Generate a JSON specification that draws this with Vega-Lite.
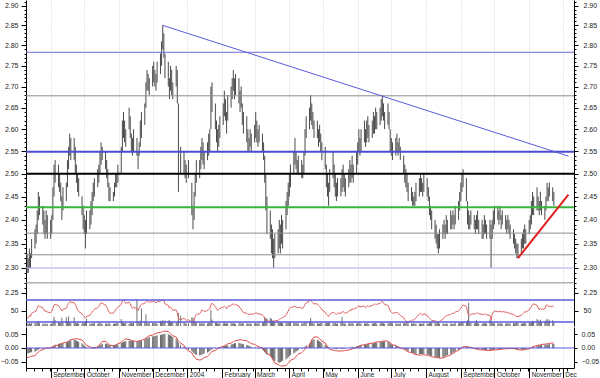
{
"$schema":"https://vega.github.io/schema/vega-lite/v6.json",
"padding":0,
"background":"white",
"spacing":0,
"config":{"view":{"stroke":null},"font":"Liberation Sans","axis":{"labelFont":"Liberation Sans","labelFontSize":7,"labelColor":"#222","tickColor":"#000","domainColor":"#000","domainWidth":1,"tickWidth":1}},
"datasets":{
"px":[
{"d":"2003-08-11","h":2.33,"l":2.29,"r":37,"v":9,"m":-0.02,"s":-0.035},
{"d":"2003-08-12","h":2.32,"l":2.29,"r":38,"v":7,"m":-0.019,"s":-0.034},
{"d":"2003-08-13","h":2.34,"l":2.3,"r":42,"v":11,"m":-0.018,"s":-0.033},
{"d":"2003-08-14","h":2.33,"l":2.3,"r":40,"v":8,"m":-0.016,"s":-0.031},
{"d":"2003-08-15","h":2.36,"l":2.32,"r":46,"v":10,"m":-0.015,"s":-0.03},
{"d":"2003-08-18","h":2.38,"l":2.34,"r":49,"v":12,"m":-0.014,"s":-0.028},
{"d":"2003-08-19","h":2.39,"l":2.35,"r":50,"v":9,"m":-0.011,"s":-0.024},
{"d":"2003-08-20","h":2.42,"l":2.37,"r":55,"v":14,"m":-0.008,"s":-0.019},
{"d":"2003-08-21","h":2.46,"l":2.4,"r":60,"v":16,"m":-0.005,"s":-0.014},
{"d":"2003-08-22","h":2.45,"l":2.41,"r":58,"v":10,"m":-0.003,"s":-0.01},
{"d":"2003-08-25","h":2.43,"l":2.39,"r":56,"v":8,"m":-0.002,"s":-0.006},
{"d":"2003-08-26","h":2.42,"l":2.37,"r":52,"v":7,"m":-0.001,"s":-0.004},
{"d":"2003-08-27","h":2.4,"l":2.36,"r":49,"v":9,"m":-0.001,"s":-0.003},
{"d":"2003-08-28","h":2.42,"l":2.37,"r":51,"v":6,"m":0,"s":-0.001},
{"d":"2003-08-29","h":2.41,"l":2.36,"r":48,"v":8,"m":0,"s":0},
{"d":"2003-09-01","h":2.4,"l":2.36,"r":47,"v":7,"m":0.001,"s":0},
{"d":"2003-09-02","h":2.41,"l":2.37,"r":49,"v":9,"m":0.003,"s":0.002},
{"d":"2003-09-03","h":2.47,"l":2.4,"r":55,"v":18,"m":0.006,"s":0.004},
{"d":"2003-09-04","h":2.52,"l":2.45,"r":61,"v":32,"m":0.009,"s":0.006},
{"d":"2003-09-05","h":2.53,"l":2.48,"r":62,"v":20,"m":0.012,"s":0.008},
{"d":"2003-09-08","h":2.52,"l":2.47,"r":60,"v":12,"m":0.015,"s":0.011},
{"d":"2003-09-09","h":2.5,"l":2.46,"r":57,"v":10,"m":0.016,"s":0.013},
{"d":"2003-09-10","h":2.48,"l":2.44,"r":54,"v":14,"m":0.016,"s":0.015},
{"d":"2003-09-11","h":2.45,"l":2.4,"r":50,"v":28,"m":0.017,"s":0.016},
{"d":"2003-09-12","h":2.47,"l":2.42,"r":53,"v":11,"m":0.018,"s":0.018},
{"d":"2003-09-15","h":2.48,"l":2.44,"r":55,"v":30,"m":0.02,"s":0.021},
{"d":"2003-09-16","h":2.53,"l":2.47,"r":60,"v":15,"m":0.022,"s":0.023},
{"d":"2003-09-17","h":2.56,"l":2.51,"r":64,"v":33,"m":0.024,"s":0.026},
{"d":"2003-09-18","h":2.59,"l":2.54,"r":67,"v":12,"m":0.026,"s":0.028},
{"d":"2003-09-19","h":2.58,"l":2.53,"r":66,"v":10,"m":0.028,"s":0.03},
{"d":"2003-09-22","h":2.58,"l":2.53,"r":65,"v":30,"m":0.03,"s":0.033},
{"d":"2003-09-23","h":2.56,"l":2.5,"r":62,"v":11,"m":0.029,"s":0.034},
{"d":"2003-09-24","h":2.52,"l":2.48,"r":57,"v":9,"m":0.027,"s":0.034},
{"d":"2003-09-25","h":2.5,"l":2.46,"r":52,"v":12,"m":0.025,"s":0.033},
{"d":"2003-09-26","h":2.49,"l":2.45,"r":49,"v":8,"m":0.022,"s":0.032},
{"d":"2003-09-29","h":2.45,"l":2.41,"r":45,"v":9,"m":0.017,"s":0.029},
{"d":"2003-09-30","h":2.43,"l":2.38,"r":42,"v":10,"m":0.013,"s":0.025},
{"d":"2003-10-01","h":2.41,"l":2.37,"r":40,"v":13,"m":0.009,"s":0.02},
{"d":"2003-10-02","h":2.4,"l":2.34,"r":37,"v":16,"m":0.005,"s":0.014},
{"d":"2003-10-03","h":2.42,"l":2.37,"r":40,"v":25,"m":0.002,"s":0.009},
{"d":"2003-10-06","h":2.42,"l":2.38,"r":42,"v":8,"m":0,"s":0.005},
{"d":"2003-10-07","h":2.44,"l":2.39,"r":45,"v":7,"m":0,"s":0.002},
{"d":"2003-10-08","h":2.46,"l":2.41,"r":48,"v":10,"m":0.001,"s":0},
{"d":"2003-10-09","h":2.48,"l":2.44,"r":51,"v":9,"m":0.002,"s":-0.001},
{"d":"2003-10-10","h":2.49,"l":2.45,"r":53,"v":11,"m":0.004,"s":0},
{"d":"2003-10-13","h":2.51,"l":2.47,"r":56,"v":8,"m":0.006,"s":0.004},
{"d":"2003-10-14","h":2.52,"l":2.48,"r":58,"v":10,"m":0.008,"s":0.009},
{"d":"2003-10-15","h":2.55,"l":2.5,"r":62,"v":13,"m":0.011,"s":0.014},
{"d":"2003-10-16","h":2.57,"l":2.52,"r":65,"v":9,"m":0.013,"s":0.019},
{"d":"2003-10-17","h":2.56,"l":2.53,"r":64,"v":7,"m":0.015,"s":0.024},
{"d":"2003-10-20","h":2.55,"l":2.51,"r":61,"v":8,"m":0.016,"s":0.024},
{"d":"2003-10-21","h":2.53,"l":2.49,"r":57,"v":9,"m":0.015,"s":0.021},
{"d":"2003-10-22","h":2.51,"l":2.47,"r":54,"v":6,"m":0.013,"s":0.017},
{"d":"2003-10-23","h":2.48,"l":2.44,"r":48,"v":11,"m":0.012,"s":0.013},
{"d":"2003-10-24","h":2.47,"l":2.44,"r":46,"v":8,"m":0.01,"s":0.01},
{"d":"2003-10-27","h":2.46,"l":2.44,"r":46,"v":7,"m":0.01,"s":0.008},
{"d":"2003-10-28","h":2.48,"l":2.45,"r":49,"v":9,"m":0.011,"s":0.009},
{"d":"2003-10-29","h":2.5,"l":2.47,"r":53,"v":8,"m":0.012,"s":0.011},
{"d":"2003-10-30","h":2.5,"l":2.47,"r":54,"v":10,"m":0.013,"s":0.013},
{"d":"2003-10-31","h":2.52,"l":2.48,"r":57,"v":12,"m":0.014,"s":0.016},
{"d":"2003-11-03","h":2.56,"l":2.5,"r":62,"v":24,"m":0.018,"s":0.02},
{"d":"2003-11-04","h":2.62,"l":2.55,"r":68,"v":14,"m":0.02,"s":0.025},
{"d":"2003-11-05","h":2.64,"l":2.58,"r":70,"v":11,"m":0.022,"s":0.029},
{"d":"2003-11-06","h":2.62,"l":2.57,"r":67,"v":9,"m":0.024,"s":0.032},
{"d":"2003-11-07","h":2.6,"l":2.56,"r":64,"v":10,"m":0.025,"s":0.033},
{"d":"2003-11-10","h":2.65,"l":2.6,"r":66,"v":8,"m":0.027,"s":0.031},
{"d":"2003-11-11","h":2.63,"l":2.58,"r":63,"v":10,"m":0.027,"s":0.03},
{"d":"2003-11-12","h":2.59,"l":2.55,"r":58,"v":12,"m":0.026,"s":0.028},
{"d":"2003-11-13","h":2.58,"l":2.54,"r":55,"v":9,"m":0.026,"s":0.027},
{"d":"2003-11-14","h":2.6,"l":2.55,"r":57,"v":11,"m":0.025,"s":0.026},
{"d":"2003-11-17","h":2.58,"l":2.54,"r":54,"v":92,"m":0.024,"s":0.024},
{"d":"2003-11-18","h":2.55,"l":2.51,"r":51,"v":14,"m":0.025,"s":0.025},
{"d":"2003-11-19","h":2.57,"l":2.54,"r":55,"v":12,"m":0.026,"s":0.026},
{"d":"2003-11-20","h":2.62,"l":2.56,"r":60,"v":18,"m":0.027,"s":0.027},
{"d":"2003-11-21","h":2.64,"l":2.58,"r":62,"v":60,"m":0.028,"s":0.028},
{"d":"2003-11-24","h":2.66,"l":2.61,"r":64,"v":15,"m":0.032,"s":0.033},
{"d":"2003-11-25","h":2.71,"l":2.65,"r":67,"v":40,"m":0.034,"s":0.036},
{"d":"2003-11-26","h":2.74,"l":2.69,"r":69,"v":12,"m":0.036,"s":0.039},
{"d":"2003-11-27","h":2.73,"l":2.69,"r":67,"v":9,"m":0.038,"s":0.042},
{"d":"2003-11-28","h":2.72,"l":2.68,"r":66,"v":10,"m":0.04,"s":0.045},
{"d":"2003-12-01","h":2.75,"l":2.7,"r":67,"v":11,"m":0.042,"s":0.047},
{"d":"2003-12-02","h":2.76,"l":2.71,"r":68,"v":9,"m":0.043,"s":0.049},
{"d":"2003-12-03","h":2.74,"l":2.7,"r":66,"v":12,"m":0.044,"s":0.051},
{"d":"2003-12-04","h":2.73,"l":2.69,"r":65,"v":10,"m":0.045,"s":0.053},
{"d":"2003-12-05","h":2.76,"l":2.71,"r":67,"v":8,"m":0.046,"s":0.055},
{"d":"2003-12-08","h":2.78,"l":2.73,"r":68,"v":18,"m":0.048,"s":0.057},
{"d":"2003-12-09","h":2.81,"l":2.75,"r":69,"v":14,"m":0.049,"s":0.058},
{"d":"2003-12-10","h":2.85,"l":2.79,"r":71,"v":20,"m":0.05,"s":0.06},
{"d":"2003-12-11","h":2.83,"l":2.77,"r":69,"v":16,"m":0.051,"s":0.061},
{"d":"2003-12-12","h":2.78,"l":2.72,"r":63,"v":19,"m":0.052,"s":0.062},
{"d":"2003-12-15","h":2.76,"l":2.7,"r":60,"v":18,"m":0.05,"s":0.06},
{"d":"2003-12-16","h":2.72,"l":2.67,"r":55,"v":20,"m":0.048,"s":0.057},
{"d":"2003-12-17","h":2.75,"l":2.69,"r":57,"v":12,"m":0.046,"s":0.053},
{"d":"2003-12-18","h":2.74,"l":2.68,"r":55,"v":16,"m":0.043,"s":0.049},
{"d":"2003-12-19","h":2.71,"l":2.67,"r":51,"v":11,"m":0.04,"s":0.045},
{"d":"2003-12-22","h":2.75,"l":2.7,"r":52,"v":10,"m":0.035,"s":0.04},
{"d":"2003-12-23","h":2.74,"l":2.66,"r":47,"v":14,"m":0.028,"s":0.033},
{"d":"2003-12-24","h":2.66,"l":2.46,"r":36,"v":45,"m":0.02,"s":0.026},
{"d":"2003-12-26","h":2.56,"l":2.5,"r":34,"v":35,"m":0.012,"s":0.018},
{"d":"2003-12-29","h":2.55,"l":2.5,"r":37,"v":12,"m":0.006,"s":0.01},
{"d":"2003-12-30","h":2.53,"l":2.49,"r":35,"v":10,"m":0.002,"s":0.003},
{"d":"2003-12-31","h":2.52,"l":2.48,"r":33,"v":8,"m":-0.002,"s":-0.004},
{"d":"2004-01-02","h":2.53,"l":2.49,"r":34,"v":9,"m":-0.006,"s":-0.01},
{"d":"2004-01-05","h":2.48,"l":2.41,"r":30,"v":30,"m":-0.012,"s":-0.018},
{"d":"2004-01-06","h":2.43,"l":2.38,"r":28,"v":28,"m":-0.016,"s":-0.025},
{"d":"2004-01-07","h":2.46,"l":2.4,"r":33,"v":20,"m":-0.02,"s":-0.032},
{"d":"2004-01-08","h":2.5,"l":2.45,"r":40,"v":14,"m":-0.023,"s":-0.037},
{"d":"2004-01-09","h":2.53,"l":2.48,"r":44,"v":12,"m":-0.025,"s":-0.041},
{"d":"2004-01-12","h":2.53,"l":2.49,"r":45,"v":10,"m":-0.027,"s":-0.044},
{"d":"2004-01-13","h":2.56,"l":2.51,"r":48,"v":9,"m":-0.026,"s":-0.043},
{"d":"2004-01-14","h":2.58,"l":2.53,"r":52,"v":11,"m":-0.024,"s":-0.041},
{"d":"2004-01-15","h":2.57,"l":2.52,"r":51,"v":8,"m":-0.022,"s":-0.038},
{"d":"2004-01-16","h":2.55,"l":2.51,"r":49,"v":10,"m":-0.02,"s":-0.035},
{"d":"2004-01-19","h":2.57,"l":2.53,"r":51,"v":9,"m":-0.017,"s":-0.031},
{"d":"2004-01-20","h":2.59,"l":2.54,"r":53,"v":11,"m":-0.014,"s":-0.027},
{"d":"2004-01-21","h":2.6,"l":2.55,"r":54,"v":12,"m":-0.011,"s":-0.022},
{"d":"2004-01-22","h":2.7,"l":2.6,"r":62,"v":55,"m":-0.007,"s":-0.017},
{"d":"2004-01-23","h":2.71,"l":2.64,"r":64,"v":22,"m":-0.004,"s":-0.012},
{"d":"2004-01-26","h":2.66,"l":2.6,"r":58,"v":12,"m":-0.002,"s":-0.009},
{"d":"2004-01-27","h":2.62,"l":2.57,"r":54,"v":10,"m":-0.001,"s":-0.006},
{"d":"2004-01-28","h":2.6,"l":2.55,"r":51,"v":9,"m":0,"s":-0.003},
{"d":"2004-01-29","h":2.61,"l":2.56,"r":53,"v":8,"m":0.002,"s":0},
{"d":"2004-01-30","h":2.63,"l":2.58,"r":55,"v":10,"m":0.003,"s":0.002},
{"d":"2004-02-02","h":2.66,"l":2.61,"r":57,"v":9,"m":0.006,"s":0.006},
{"d":"2004-02-03","h":2.69,"l":2.63,"r":59,"v":12,"m":0.007,"s":0.008},
{"d":"2004-02-04","h":2.67,"l":2.62,"r":57,"v":8,"m":0.008,"s":0.011},
{"d":"2004-02-05","h":2.64,"l":2.59,"r":54,"v":10,"m":0.009,"s":0.013},
{"d":"2004-02-06","h":2.68,"l":2.62,"r":58,"v":9,"m":0.01,"s":0.015},
{"d":"2004-02-09","h":2.7,"l":2.65,"r":60,"v":10,"m":0.012,"s":0.018},
{"d":"2004-02-10","h":2.72,"l":2.67,"r":62,"v":8,"m":0.014,"s":0.02},
{"d":"2004-02-11","h":2.74,"l":2.69,"r":63,"v":12,"m":0.015,"s":0.023},
{"d":"2004-02-12","h":2.72,"l":2.67,"r":61,"v":9,"m":0.017,"s":0.025},
{"d":"2004-02-13","h":2.73,"l":2.68,"r":62,"v":7,"m":0.018,"s":0.027},
{"d":"2004-02-16","h":2.72,"l":2.66,"r":59,"v":9,"m":0.018,"s":0.029},
{"d":"2004-02-17","h":2.69,"l":2.64,"r":55,"v":11,"m":0.017,"s":0.03},
{"d":"2004-02-18","h":2.7,"l":2.65,"r":54,"v":8,"m":0.016,"s":0.03},
{"d":"2004-02-19","h":2.66,"l":2.61,"r":50,"v":10,"m":0.015,"s":0.029},
{"d":"2004-02-20","h":2.64,"l":2.59,"r":47,"v":9,"m":0.014,"s":0.028},
{"d":"2004-02-23","h":2.63,"l":2.57,"r":46,"v":8,"m":0.011,"s":0.026},
{"d":"2004-02-24","h":2.6,"l":2.55,"r":44,"v":10,"m":0.01,"s":0.024},
{"d":"2004-02-25","h":2.58,"l":2.55,"r":43,"v":7,"m":0.008,"s":0.021},
{"d":"2004-02-26","h":2.6,"l":2.56,"r":45,"v":9,"m":0.006,"s":0.019},
{"d":"2004-02-27","h":2.59,"l":2.55,"r":44,"v":8,"m":0.004,"s":0.016},
{"d":"2004-03-01","h":2.61,"l":2.57,"r":45,"v":9,"m":0.002,"s":0.013},
{"d":"2004-03-02","h":2.64,"l":2.58,"r":47,"v":11,"m":0.001,"s":0.011},
{"d":"2004-03-03","h":2.62,"l":2.57,"r":46,"v":8,"m":0,"s":0.008},
{"d":"2004-03-04","h":2.6,"l":2.56,"r":44,"v":10,"m":-0.002,"s":0.006},
{"d":"2004-03-05","h":2.61,"l":2.57,"r":45,"v":9,"m":-0.003,"s":0.004},
{"d":"2004-03-08","h":2.59,"l":2.55,"r":43,"v":10,"m":-0.006,"s":0.001},
{"d":"2004-03-09","h":2.57,"l":2.53,"r":41,"v":12,"m":-0.01,"s":-0.004},
{"d":"2004-03-10","h":2.54,"l":2.48,"r":37,"v":30,"m":-0.015,"s":-0.009},
{"d":"2004-03-11","h":2.5,"l":2.42,"r":34,"v":28,"m":-0.02,"s":-0.015},
{"d":"2004-03-12","h":2.45,"l":2.37,"r":32,"v":25,"m":-0.025,"s":-0.02},
{"d":"2004-03-15","h":2.42,"l":2.36,"r":31,"v":27,"m":-0.03,"s":-0.026},
{"d":"2004-03-16","h":2.39,"l":2.33,"r":30,"v":25,"m":-0.034,"s":-0.033},
{"d":"2004-03-17","h":2.38,"l":2.32,"r":31,"v":18,"m":-0.039,"s":-0.04},
{"d":"2004-03-18","h":2.36,"l":2.3,"r":29,"v":20,"m":-0.044,"s":-0.048},
{"d":"2004-03-19","h":2.37,"l":2.32,"r":32,"v":15,"m":-0.048,"s":-0.055},
{"d":"2004-03-22","h":2.38,"l":2.33,"r":33,"v":14,"m":-0.052,"s":-0.06},
{"d":"2004-03-23","h":2.4,"l":2.34,"r":35,"v":12,"m":-0.054,"s":-0.063},
{"d":"2004-03-24","h":2.39,"l":2.33,"r":36,"v":11,"m":-0.052,"s":-0.065},
{"d":"2004-03-25","h":2.41,"l":2.35,"r":37,"v":13,"m":-0.049,"s":-0.066},
{"d":"2004-03-26","h":2.4,"l":2.34,"r":38,"v":10,"m":-0.046,"s":-0.066},
{"d":"2004-03-29","h":2.44,"l":2.38,"r":42,"v":11,"m":-0.042,"s":-0.064},
{"d":"2004-03-30","h":2.46,"l":2.41,"r":46,"v":9,"m":-0.038,"s":-0.06},
{"d":"2004-03-31","h":2.48,"l":2.43,"r":50,"v":12,"m":-0.034,"s":-0.056},
{"d":"2004-04-01","h":2.5,"l":2.45,"r":54,"v":10,"m":-0.03,"s":-0.051},
{"d":"2004-04-02","h":2.52,"l":2.47,"r":56,"v":14,"m":-0.025,"s":-0.045},
{"d":"2004-04-05","h":2.55,"l":2.5,"r":58,"v":12,"m":-0.02,"s":-0.04},
{"d":"2004-04-06","h":2.58,"l":2.52,"r":59,"v":10,"m":-0.017,"s":-0.035},
{"d":"2004-04-07","h":2.55,"l":2.51,"r":57,"v":9,"m":-0.013,"s":-0.03},
{"d":"2004-04-08","h":2.53,"l":2.5,"r":56,"v":11,"m":-0.01,"s":-0.026},
{"d":"2004-04-09","h":2.54,"l":2.5,"r":57,"v":8,"m":-0.008,"s":-0.022},
{"d":"2004-04-12","h":2.53,"l":2.49,"r":55,"v":9,"m":-0.004,"s":-0.017},
{"d":"2004-04-13","h":2.52,"l":2.49,"r":55,"v":8,"m":-0.001,"s":-0.013},
{"d":"2004-04-14","h":2.55,"l":2.5,"r":58,"v":10,"m":0.002,"s":-0.009},
{"d":"2004-04-15","h":2.6,"l":2.54,"r":62,"v":12,"m":0.005,"s":-0.004},
{"d":"2004-04-16","h":2.63,"l":2.58,"r":65,"v":15,"m":0.009,"s":0.001},
{"d":"2004-04-19","h":2.65,"l":2.6,"r":68,"v":14,"m":0.016,"s":0.01},
{"d":"2004-04-20","h":2.68,"l":2.62,"r":70,"v":28,"m":0.022,"s":0.02},
{"d":"2004-04-21","h":2.66,"l":2.61,"r":67,"v":12,"m":0.027,"s":0.03},
{"d":"2004-04-22","h":2.64,"l":2.6,"r":65,"v":10,"m":0.03,"s":0.036},
{"d":"2004-04-23","h":2.62,"l":2.58,"r":63,"v":9,"m":0.032,"s":0.04},
{"d":"2004-04-26","h":2.62,"l":2.58,"r":63,"v":10,"m":0.03,"s":0.04},
{"d":"2004-04-27","h":2.6,"l":2.56,"r":60,"v":8,"m":0.027,"s":0.037},
{"d":"2004-04-28","h":2.61,"l":2.57,"r":58,"v":9,"m":0.024,"s":0.033},
{"d":"2004-04-29","h":2.59,"l":2.55,"r":56,"v":11,"m":0.021,"s":0.029},
{"d":"2004-04-30","h":2.57,"l":2.53,"r":52,"v":10,"m":0.018,"s":0.025},
{"d":"2004-05-03","h":2.56,"l":2.51,"r":48,"v":9,"m":0.012,"s":0.019},
{"d":"2004-05-04","h":2.52,"l":2.47,"r":44,"v":12,"m":0.008,"s":0.012},
{"d":"2004-05-05","h":2.5,"l":2.45,"r":42,"v":10,"m":0.004,"s":0.005},
{"d":"2004-05-06","h":2.48,"l":2.43,"r":40,"v":14,"m":0.001,"s":0},
{"d":"2004-05-07","h":2.51,"l":2.46,"r":44,"v":11,"m":-0.001,"s":-0.005},
{"d":"2004-05-10","h":2.55,"l":2.49,"r":48,"v":10,"m":-0.002,"s":-0.008},
{"d":"2004-05-11","h":2.52,"l":2.47,"r":47,"v":9,"m":-0.003,"s":-0.009},
{"d":"2004-05-12","h":2.5,"l":2.45,"r":45,"v":11,"m":-0.003,"s":-0.01},
{"d":"2004-05-13","h":2.48,"l":2.44,"r":44,"v":8,"m":-0.004,"s":-0.01},
{"d":"2004-05-14","h":2.49,"l":2.45,"r":46,"v":9,"m":-0.004,"s":-0.011},
{"d":"2004-05-17","h":2.49,"l":2.45,"r":46,"v":12,"m":-0.004,"s":-0.011},
{"d":"2004-05-18","h":2.51,"l":2.46,"r":48,"v":31,"m":-0.003,"s":-0.011},
{"d":"2004-05-19","h":2.52,"l":2.47,"r":49,"v":10,"m":-0.003,"s":-0.01},
{"d":"2004-05-20","h":2.5,"l":2.46,"r":47,"v":9,"m":-0.002,"s":-0.01},
{"d":"2004-05-21","h":2.49,"l":2.45,"r":46,"v":8,"m":-0.002,"s":-0.009},
{"d":"2004-05-24","h":2.51,"l":2.47,"r":49,"v":9,"m":0,"s":-0.008},
{"d":"2004-05-25","h":2.53,"l":2.48,"r":52,"v":10,"m":0.001,"s":-0.006},
{"d":"2004-05-26","h":2.52,"l":2.48,"r":51,"v":8,"m":0.002,"s":-0.005},
{"d":"2004-05-27","h":2.54,"l":2.49,"r":54,"v":11,"m":0.003,"s":-0.003},
{"d":"2004-05-28","h":2.52,"l":2.48,"r":53,"v":7,"m":0.004,"s":-0.002},
{"d":"2004-05-31","h":2.55,"l":2.5,"r":56,"v":8,"m":0.006,"s":0.002},
{"d":"2004-06-01","h":2.57,"l":2.52,"r":58,"v":10,"m":0.007,"s":0.004},
{"d":"2004-06-02","h":2.6,"l":2.55,"r":60,"v":12,"m":0.008,"s":0.006},
{"d":"2004-06-03","h":2.58,"l":2.54,"r":57,"v":9,"m":0.009,"s":0.008},
{"d":"2004-06-04","h":2.6,"l":2.55,"r":58,"v":8,"m":0.01,"s":0.01},
{"d":"2004-06-07","h":2.62,"l":2.57,"r":59,"v":9,"m":0.012,"s":0.012},
{"d":"2004-06-08","h":2.6,"l":2.56,"r":56,"v":8,"m":0.013,"s":0.013},
{"d":"2004-06-09","h":2.62,"l":2.57,"r":58,"v":10,"m":0.013,"s":0.014},
{"d":"2004-06-10","h":2.63,"l":2.58,"r":60,"v":9,"m":0.014,"s":0.015},
{"d":"2004-06-11","h":2.61,"l":2.57,"r":58,"v":7,"m":0.015,"s":0.016},
{"d":"2004-06-14","h":2.62,"l":2.58,"r":60,"v":8,"m":0.016,"s":0.018},
{"d":"2004-06-15","h":2.64,"l":2.59,"r":62,"v":10,"m":0.017,"s":0.019},
{"d":"2004-06-16","h":2.63,"l":2.59,"r":61,"v":9,"m":0.018,"s":0.02},
{"d":"2004-06-17","h":2.65,"l":2.6,"r":63,"v":11,"m":0.019,"s":0.021},
{"d":"2004-06-18","h":2.64,"l":2.6,"r":62,"v":8,"m":0.02,"s":0.022},
{"d":"2004-06-21","h":2.65,"l":2.61,"r":64,"v":9,"m":0.022,"s":0.023},
{"d":"2004-06-22","h":2.67,"l":2.62,"r":66,"v":10,"m":0.023,"s":0.024},
{"d":"2004-06-23","h":2.68,"l":2.63,"r":68,"v":12,"m":0.024,"s":0.025},
{"d":"2004-06-24","h":2.66,"l":2.62,"r":65,"v":9,"m":0.024,"s":0.026},
{"d":"2004-06-25","h":2.64,"l":2.6,"r":62,"v":8,"m":0.025,"s":0.026},
{"d":"2004-06-28","h":2.66,"l":2.61,"r":60,"v":9,"m":0.022,"s":0.025},
{"d":"2004-06-29","h":2.64,"l":2.6,"r":56,"v":10,"m":0.02,"s":0.022},
{"d":"2004-06-30","h":2.6,"l":2.55,"r":50,"v":14,"m":0.017,"s":0.019},
{"d":"2004-07-01","h":2.58,"l":2.54,"r":48,"v":11,"m":0.014,"s":0.015},
{"d":"2004-07-02","h":2.57,"l":2.53,"r":46,"v":9,"m":0.012,"s":0.012},
{"d":"2004-07-05","h":2.58,"l":2.54,"r":47,"v":8,"m":0.009,"s":0.009},
{"d":"2004-07-06","h":2.59,"l":2.55,"r":48,"v":9,"m":0.007,"s":0.006},
{"d":"2004-07-07","h":2.57,"l":2.54,"r":45,"v":7,"m":0.005,"s":0.004},
{"d":"2004-07-08","h":2.58,"l":2.55,"r":44,"v":8,"m":0.004,"s":0.002},
{"d":"2004-07-09","h":2.56,"l":2.53,"r":42,"v":9,"m":0.002,"s":0},
{"d":"2004-07-12","h":2.54,"l":2.5,"r":38,"v":10,"m":-0.002,"s":-0.004},
{"d":"2004-07-13","h":2.52,"l":2.48,"r":34,"v":11,"m":-0.004,"s":-0.006},
{"d":"2004-07-14","h":2.51,"l":2.47,"r":32,"v":9,"m":-0.007,"s":-0.009},
{"d":"2004-07-15","h":2.5,"l":2.46,"r":30,"v":12,"m":-0.01,"s":-0.011},
{"d":"2004-07-16","h":2.48,"l":2.44,"r":31,"v":10,"m":-0.012,"s":-0.014},
{"d":"2004-07-19","h":2.47,"l":2.44,"r":32,"v":9,"m":-0.016,"s":-0.017},
{"d":"2004-07-20","h":2.46,"l":2.43,"r":34,"v":8,"m":-0.018,"s":-0.019},
{"d":"2004-07-21","h":2.45,"l":2.43,"r":33,"v":10,"m":-0.019,"s":-0.021},
{"d":"2004-07-22","h":2.46,"l":2.43,"r":35,"v":7,"m":-0.021,"s":-0.023},
{"d":"2004-07-23","h":2.48,"l":2.44,"r":38,"v":9,"m":-0.022,"s":-0.024},
{"d":"2004-07-26","h":2.49,"l":2.45,"r":44,"v":8,"m":-0.022,"s":-0.026},
{"d":"2004-07-27","h":2.5,"l":2.46,"r":46,"v":9,"m":-0.022,"s":-0.026},
{"d":"2004-07-28","h":2.49,"l":2.46,"r":44,"v":7,"m":-0.022,"s":-0.025},
{"d":"2004-07-29","h":2.48,"l":2.45,"r":42,"v":8,"m":-0.022,"s":-0.025},
{"d":"2004-07-30","h":2.5,"l":2.46,"r":45,"v":10,"m":-0.022,"s":-0.025},
{"d":"2004-08-02","h":2.49,"l":2.45,"r":42,"v":9,"m":-0.024,"s":-0.026},
{"d":"2004-08-03","h":2.47,"l":2.44,"r":39,"v":8,"m":-0.025,"s":-0.028},
{"d":"2004-08-04","h":2.45,"l":2.41,"r":37,"v":11,"m":-0.027,"s":-0.029},
{"d":"2004-08-05","h":2.43,"l":2.4,"r":35,"v":10,"m":-0.028,"s":-0.031},
{"d":"2004-08-06","h":2.42,"l":2.38,"r":33,"v":12,"m":-0.03,"s":-0.032},
{"d":"2004-08-09","h":2.4,"l":2.36,"r":32,"v":11,"m":-0.032,"s":-0.034},
{"d":"2004-08-10","h":2.39,"l":2.35,"r":31,"v":9,"m":-0.033,"s":-0.035},
{"d":"2004-08-11","h":2.37,"l":2.34,"r":30,"v":10,"m":-0.034,"s":-0.035},
{"d":"2004-08-12","h":2.37,"l":2.33,"r":29,"v":13,"m":-0.035,"s":-0.036},
{"d":"2004-08-13","h":2.38,"l":2.34,"r":31,"v":8,"m":-0.036,"s":-0.037},
{"d":"2004-08-16","h":2.39,"l":2.36,"r":35,"v":9,"m":-0.034,"s":-0.036},
{"d":"2004-08-17","h":2.4,"l":2.37,"r":38,"v":7,"m":-0.032,"s":-0.035},
{"d":"2004-08-18","h":2.39,"l":2.36,"r":40,"v":8,"m":-0.03,"s":-0.033},
{"d":"2004-08-19","h":2.41,"l":2.37,"r":41,"v":9,"m":-0.028,"s":-0.032},
{"d":"2004-08-20","h":2.4,"l":2.37,"r":42,"v":7,"m":-0.026,"s":-0.03},
{"d":"2004-08-23","h":2.42,"l":2.38,"r":44,"v":8,"m":-0.022,"s":-0.025},
{"d":"2004-08-24","h":2.41,"l":2.38,"r":45,"v":9,"m":-0.02,"s":-0.022},
{"d":"2004-08-25","h":2.42,"l":2.39,"r":46,"v":7,"m":-0.017,"s":-0.02},
{"d":"2004-08-26","h":2.41,"l":2.38,"r":46,"v":8,"m":-0.015,"s":-0.017},
{"d":"2004-08-27","h":2.43,"l":2.39,"r":48,"v":10,"m":-0.012,"s":-0.014},
{"d":"2004-08-30","h":2.44,"l":2.4,"r":50,"v":9,"m":-0.008,"s":-0.008},
{"d":"2004-08-31","h":2.46,"l":2.42,"r":52,"v":11,"m":-0.005,"s":-0.005},
{"d":"2004-09-01","h":2.48,"l":2.44,"r":55,"v":12,"m":-0.002,"s":-0.002},
{"d":"2004-09-02","h":2.5,"l":2.46,"r":59,"v":14,"m":0.001,"s":0.001},
{"d":"2004-09-03","h":2.51,"l":2.47,"r":61,"v":13,"m":0.004,"s":0.004},
{"d":"2004-09-06","h":2.49,"l":2.44,"r":58,"v":12,"m":0.005,"s":0.006},
{"d":"2004-09-07","h":2.44,"l":2.39,"r":47,"v":20,"m":0.004,"s":0.005},
{"d":"2004-09-08","h":2.42,"l":2.38,"r":43,"v":80,"m":0.002,"s":0.004},
{"d":"2004-09-09","h":2.41,"l":2.38,"r":42,"v":15,"m":0.001,"s":0.003},
{"d":"2004-09-10","h":2.42,"l":2.39,"r":44,"v":10,"m":0,"s":0.002},
{"d":"2004-09-13","h":2.41,"l":2.38,"r":45,"v":9,"m":-0.002,"s":-0.002},
{"d":"2004-09-14","h":2.4,"l":2.37,"r":44,"v":11,"m":-0.003,"s":-0.003},
{"d":"2004-09-15","h":2.41,"l":2.38,"r":46,"v":20,"m":-0.003,"s":-0.004},
{"d":"2004-09-16","h":2.42,"l":2.38,"r":47,"v":10,"m":-0.004,"s":-0.005},
{"d":"2004-09-17","h":2.4,"l":2.37,"r":45,"v":9,"m":-0.005,"s":-0.006},
{"d":"2004-09-20","h":2.4,"l":2.36,"r":44,"v":8,"m":-0.006,"s":-0.007},
{"d":"2004-09-21","h":2.39,"l":2.36,"r":43,"v":10,"m":-0.007,"s":-0.007},
{"d":"2004-09-22","h":2.41,"l":2.37,"r":45,"v":9,"m":-0.007,"s":-0.008},
{"d":"2004-09-23","h":2.4,"l":2.37,"r":44,"v":11,"m":-0.008,"s":-0.008},
{"d":"2004-09-24","h":2.39,"l":2.36,"r":43,"v":8,"m":-0.008,"s":-0.009},
{"d":"2004-09-27","h":2.4,"l":2.36,"r":42,"v":22,"m":-0.008,"s":-0.009},
{"d":"2004-09-28","h":2.39,"l":2.3,"r":34,"v":22,"m":-0.008,"s":-0.009},
{"d":"2004-09-29","h":2.4,"l":2.36,"r":44,"v":12,"m":-0.007,"s":-0.008},
{"d":"2004-09-30","h":2.42,"l":2.38,"r":48,"v":10,"m":-0.007,"s":-0.008},
{"d":"2004-10-01","h":2.43,"l":2.39,"r":50,"v":9,"m":-0.006,"s":-0.007},
{"d":"2004-10-04","h":2.43,"l":2.4,"r":49,"v":10,"m":-0.005,"s":-0.006},
{"d":"2004-10-05","h":2.42,"l":2.39,"r":48,"v":8,"m":-0.005,"s":-0.006},
{"d":"2004-10-06","h":2.43,"l":2.4,"r":50,"v":9,"m":-0.004,"s":-0.005},
{"d":"2004-10-07","h":2.41,"l":2.38,"r":48,"v":11,"m":-0.004,"s":-0.005},
{"d":"2004-10-08","h":2.42,"l":2.39,"r":49,"v":7,"m":-0.003,"s":-0.004},
{"d":"2004-10-11","h":2.41,"l":2.38,"r":48,"v":8,"m":-0.003,"s":-0.003},
{"d":"2004-10-12","h":2.4,"l":2.37,"r":47,"v":9,"m":-0.003,"s":-0.003},
{"d":"2004-10-13","h":2.41,"l":2.38,"r":48,"v":10,"m":-0.002,"s":-0.002},
{"d":"2004-10-14","h":2.4,"l":2.37,"r":46,"v":8,"m":-0.002,"s":-0.002},
{"d":"2004-10-15","h":2.39,"l":2.36,"r":45,"v":9,"m":-0.002,"s":-0.002},
{"d":"2004-10-18","h":2.38,"l":2.35,"r":44,"v":10,"m":-0.003,"s":-0.002},
{"d":"2004-10-19","h":2.37,"l":2.34,"r":42,"v":9,"m":-0.004,"s":-0.003},
{"d":"2004-10-20","h":2.36,"l":2.33,"r":41,"v":11,"m":-0.004,"s":-0.004},
{"d":"2004-10-21","h":2.35,"l":2.32,"r":40,"v":12,"m":-0.005,"s":-0.005},
{"d":"2004-10-22","h":2.35,"l":2.32,"r":40,"v":10,"m":-0.006,"s":-0.006},
{"d":"2004-10-25","h":2.36,"l":2.33,"r":42,"v":9,"m":-0.007,"s":-0.008},
{"d":"2004-10-26","h":2.37,"l":2.34,"r":44,"v":8,"m":-0.006,"s":-0.007},
{"d":"2004-10-27","h":2.38,"l":2.34,"r":46,"v":10,"m":-0.006,"s":-0.007},
{"d":"2004-10-28","h":2.39,"l":2.35,"r":49,"v":11,"m":-0.005,"s":-0.006},
{"d":"2004-10-29","h":2.38,"l":2.35,"r":48,"v":9,"m":-0.004,"s":-0.005},
{"d":"2004-11-01","h":2.4,"l":2.37,"r":52,"v":12,"m":-0.002,"s":-0.003},
{"d":"2004-11-02","h":2.41,"l":2.38,"r":55,"v":10,"m":0,"s":-0.001},
{"d":"2004-11-03","h":2.44,"l":2.39,"r":58,"v":14,"m":0.002,"s":0.002},
{"d":"2004-11-04","h":2.46,"l":2.41,"r":62,"v":18,"m":0.004,"s":0.004},
{"d":"2004-11-05","h":2.45,"l":2.41,"r":63,"v":15,"m":0.006,"s":0.006},
{"d":"2004-11-08","h":2.47,"l":2.42,"r":60,"v":24,"m":0.008,"s":0.009},
{"d":"2004-11-09","h":2.45,"l":2.42,"r":56,"v":20,"m":0.009,"s":0.01},
{"d":"2004-11-10","h":2.44,"l":2.41,"r":52,"v":14,"m":0.009,"s":0.011},
{"d":"2004-11-11","h":2.46,"l":2.42,"r":55,"v":22,"m":0.01,"s":0.012},
{"d":"2004-11-12","h":2.44,"l":2.41,"r":53,"v":12,"m":0.011,"s":0.013},
{"d":"2004-11-15","h":2.43,"l":2.4,"r":54,"v":15,"m":0.012,"s":0.014},
{"d":"2004-11-16","h":2.45,"l":2.42,"r":60,"v":20,"m":0.012,"s":0.015},
{"d":"2004-11-17","h":2.48,"l":2.44,"r":61,"v":25,"m":0.013,"s":0.015},
{"d":"2004-11-18","h":2.47,"l":2.44,"r":59,"v":18,"m":0.013,"s":0.016},
{"d":"2004-11-19","h":2.48,"l":2.45,"r":58,"v":22,"m":0.014,"s":0.017},
{"d":"2004-11-22","h":2.47,"l":2.44,"r":59,"v":20,"m":0.015,"s":0.018},
{"d":"2004-11-23","h":2.46,"l":2.43,"r":57,"v":14,"m":0.015,"s":0.019}
],
"lv":[
{"p":2.783,"k":"resistance"},
{"p":2.678,"k":"level"},
{"p":2.549,"k":"key"},
{"p":2.5,"k":"pivot"},
{"p":2.427,"k":"support"},
{"p":2.372,"k":"level"},
{"p":2.327,"k":"level"},
{"p":2.3,"k":"floor"},
{"p":2.27,"k":"level"}
],
"dn":[{"d":"2003-12-10","p":2.85},{"d":"2004-12-06","p":2.539}],
"up":[{"d":"2004-10-22","p":2.32},{"d":"2004-12-06","p":2.454}],
"band":[{"k":70},{"k":30}],
"zero":[{"k":0}]
},
"vconcat":[
{
"width":548,"height":297,
"layer":[
{"data":{"name":"px"},"mark":{"type":"rule","color":"#4a4a4a","strokeWidth":1},
"encoding":{
"x":{"field":"d","type":"temporal","scale":{"type":"utc","domain":[{"year":2003,"month":8,"date":10,"utc":true},{"year":2004,"month":12,"date":11,"utc":true}]},"axis":{"title":null,"labels":false,"ticks":false,"domain":false,"grid":true,"gridColor":"#cfcfcf","gridDash":[1,2],"tickCount":"month"}},
"y":{"field":"h","type":"quantitative","scale":{"type":"log","domain":[2.2418,2.9146],"nice":false},"axis":{"orient":"left","title":null,"grid":false,"values":[2.25,2.3,2.35,2.4,2.45,2.5,2.55,2.6,2.65,2.7,2.75,2.8,2.85,2.9],"format":".2f","tickSize":5,"labelPadding":3,"minExtent":26,"maxExtent":26}},
"y2":{"field":"l"}}},
{"data":{"name":"lv"},"transform":[{"filter":"indexof(['key','pivot','support'], datum.k) < 0"}],"mark":{"type":"rule","strokeWidth":1},
"encoding":{
"y":{"field":"p","type":"quantitative","scale":{"type":"log","domain":[2.2418,2.9146],"nice":false},"axis":{"orient":"right","title":null,"grid":false,"values":[2.25,2.3,2.35,2.4,2.45,2.5,2.55,2.6,2.65,2.7,2.75,2.8,2.85,2.9],"format":".2f","tickSize":4,"labelPadding":5,"minExtent":26,"maxExtent":26}},
"color":{"field":"k","type":"nominal","legend":null,"scale":{"domain":["resistance","level","key","pivot","support","floor"],"range":["#6b6bdc","#8c8c8c","#4a4ad2","#000000","#3cb43c","#a8a8f0"]}}}},
{"data":{"name":"lv"},"transform":[{"filter":"indexof(['key','pivot','support'], datum.k) >= 0"}],"mark":{"type":"rule","strokeWidth":2},
"encoding":{
"y":{"field":"p","type":"quantitative","scale":{"type":"log","domain":[2.2418,2.9146],"nice":false},"axis":null},
"color":{"field":"k","type":"nominal","legend":null,"scale":{"domain":["resistance","level","key","pivot","support","floor"],"range":["#6b6bdc","#8c8c8c","#4a4ad2","#000000","#3cb43c","#a8a8f0"]}}}},
{"data":{"name":"dn"},"mark":{"type":"line","color":"#5b5bdc","strokeWidth":1},
"encoding":{
"x":{"field":"d","type":"temporal","scale":{"type":"utc","domain":[{"year":2003,"month":8,"date":10,"utc":true},{"year":2004,"month":12,"date":11,"utc":true}]},"axis":{"title":null,"labels":false,"ticks":false,"domain":false,"grid":true,"gridColor":"#cfcfcf","gridDash":[1,2],"tickCount":"month"}},
"y":{"field":"p","type":"quantitative","scale":{"type":"log","domain":[2.2418,2.9146],"nice":false},"axis":{"orient":"left","title":null,"grid":false,"labels":false,"domain":false,"tickSize":2,"values":[2.25,2.26,2.27,2.28,2.29,2.3,2.31,2.32,2.33,2.34,2.35,2.36,2.37,2.38,2.39,2.4,2.41,2.42,2.43,2.44,2.45,2.46,2.47,2.48,2.49,2.5,2.51,2.52,2.53,2.54,2.55,2.56,2.57,2.58,2.59,2.6,2.61,2.62,2.63,2.64,2.65,2.66,2.67,2.68,2.69,2.7,2.71,2.72,2.73,2.74,2.75,2.76,2.77,2.78,2.79,2.8,2.81,2.82,2.83,2.84,2.85,2.86,2.87,2.88,2.89,2.9,2.91],"minExtent":26,"maxExtent":26}}}},
{"data":{"name":"up"},"mark":{"type":"line","color":"#e02020","strokeWidth":2},
"encoding":{
"x":{"field":"d","type":"temporal","scale":{"type":"utc","domain":[{"year":2003,"month":8,"date":10,"utc":true},{"year":2004,"month":12,"date":11,"utc":true}]},"axis":{"title":null,"labels":false,"ticks":false,"domain":false,"grid":true,"gridColor":"#cfcfcf","gridDash":[1,2],"tickCount":"month"}},
"y":{"field":"p","type":"quantitative","scale":{"type":"log","domain":[2.2418,2.9146],"nice":false},"axis":{"orient":"right","title":null,"grid":false,"labels":false,"domain":false,"tickSize":2,"values":[2.25,2.26,2.27,2.28,2.29,2.3,2.31,2.32,2.33,2.34,2.35,2.36,2.37,2.38,2.39,2.4,2.41,2.42,2.43,2.44,2.45,2.46,2.47,2.48,2.49,2.5,2.51,2.52,2.53,2.54,2.55,2.56,2.57,2.58,2.59,2.6,2.61,2.62,2.63,2.64,2.65,2.66,2.67,2.68,2.69,2.7,2.71,2.72,2.73,2.74,2.75,2.76,2.77,2.78,2.79,2.8,2.81,2.82,2.83,2.84,2.85,2.86,2.87,2.88,2.89,2.9,2.91],"minExtent":26,"maxExtent":26}}}}
],
"resolve":{"axis":{"y":"independent"}}
},
{
"width":548,"height":29,
"layer":[
{"data":{"name":"px"},"mark":{"type":"rule","color":"#4a4a4a","strokeWidth":0.8},
"encoding":{
"x":{"field":"d","type":"temporal","scale":{"type":"utc","domain":[{"year":2003,"month":8,"date":10,"utc":true},{"year":2004,"month":12,"date":11,"utc":true}]},"axis":{"title":null,"labels":false,"ticks":false,"domain":false,"grid":true,"gridColor":"#cfcfcf","gridDash":[1,2],"tickCount":"month"}},
"y":{"field":"v","type":"quantitative","scale":{"domain":[0,100],"nice":false},"axis":null},
"y2":{"datum":0}}},
{"data":{"name":"px"},"mark":{"type":"line","color":"#e06464","strokeWidth":1},
"encoding":{
"x":{"field":"d","type":"temporal","scale":{"type":"utc","domain":[{"year":2003,"month":8,"date":10,"utc":true},{"year":2004,"month":12,"date":11,"utc":true}]},"axis":{"title":null,"labels":false,"ticks":false,"domain":false,"grid":true,"gridColor":"#cfcfcf","gridDash":[1,2],"tickCount":"month"}},
"y":{"field":"r","type":"quantitative","scale":{"domain":[22.73,75.45],"nice":false,"zero":false},"axis":{"orient":"left","title":null,"grid":false,"values":[50],"tickSize":5,"labelPadding":3,"minExtent":26,"maxExtent":26}}}},
{"data":{"name":"band"},"mark":{"type":"rule","color":"#5b5bdc","strokeWidth":1.5},
"encoding":{
"y":{"field":"k","type":"quantitative","scale":{"domain":[22.73,75.45],"nice":false,"zero":false},"axis":{"orient":"right","title":null,"grid":false,"values":[50],"tickSize":4,"labelPadding":5,"minExtent":26,"maxExtent":26}}}}
],
"resolve":{"scale":{"y":"independent"},"axis":{"y":"independent"}}
},
{
"width":548,"height":41,
"layer":[
{"data":{"name":"px"},"mark":{"type":"rule","color":"#404040","strokeWidth":0.8},
"encoding":{
"x":{"field":"d","type":"temporal","scale":{"type":"utc","domain":[{"year":2003,"month":8,"date":10,"utc":true},{"year":2004,"month":12,"date":11,"utc":true}]},"axis":{"orient":"bottom","title":null,"grid":true,"gridColor":"#cfcfcf","gridDash":[1,2],"tickCount":"month","tickSize":10,"domain":true,"labelFontSize":6.5,"labelAlign":"left","labelBaseline":"top","labelPadding":-7,"labelOffset":2,"labelOverlap":false,"labelFlush":false,"labelExpr":"utcmonth(datum.value) == 0 ? utcFormat(datum.value, '%Y') : (utcyear(datum.value) == 2004 && utcmonth(datum.value) == 11 ? 'Dec' : utcFormat(datum.value, '%B'))"}},
"y":{"field":"m","type":"quantitative","scale":{"domain":[-0.073,0.0766],"nice":false,"zero":false},"axis":{"orient":"left","title":null,"grid":false,"values":[-0.05,0,0.05],"format":".2f","tickSize":5,"labelPadding":3,"minExtent":26,"maxExtent":26}},
"y2":{"datum":0}}},
{"data":{"name":"px"},"mark":{"type":"line","color":"#e04848","strokeWidth":1},
"encoding":{
"x":{"field":"d","type":"temporal","scale":{"type":"utc","domain":[{"year":2003,"month":8,"date":10,"utc":true},{"year":2004,"month":12,"date":11,"utc":true}]},"axis":{"orient":"bottom","title":null,"grid":false,"labels":false,"domain":false,"tickCount":"week","tickSize":3}},
"y":{"field":"s","type":"quantitative","scale":{"domain":[-0.073,0.0766],"nice":false,"zero":false},"axis":{"orient":"right","title":null,"grid":false,"values":[-0.05,0,0.05],"format":".2f","tickSize":3,"labelPadding":4,"minExtent":26,"maxExtent":26}}}},
{"data":{"name":"zero"},"mark":{"type":"rule","color":"#5b5bdc","strokeWidth":1},
"encoding":{
"y":{"field":"k","type":"quantitative","scale":{"domain":[-0.073,0.0766],"nice":false,"zero":false},"axis":null}}}
],
"resolve":{"axis":{"x":"independent","y":"independent"}}
}
]
}
